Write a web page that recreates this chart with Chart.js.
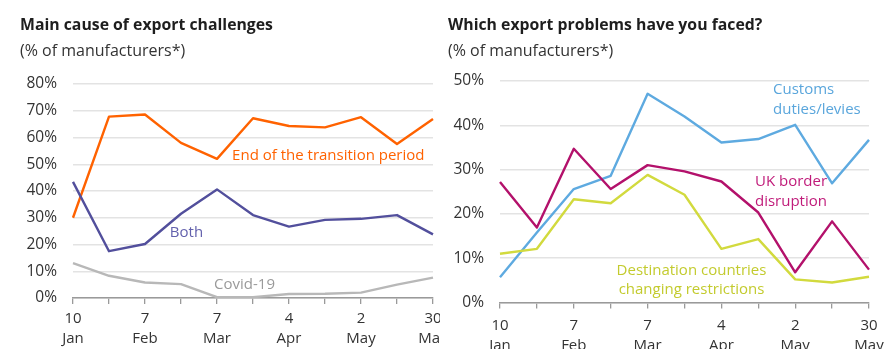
<!DOCTYPE html>
<html><head><meta charset="utf-8">
<script src="https://cdn.jsdelivr.net/npm/chart.js@4/dist/chart.umd.min.js"></script>
<style>
html,body{margin:0;padding:0;background:#fff;width:886px;height:349px;overflow:hidden;font-family:"Open Sans",sans-serif;}
.box{position:absolute;top:0;height:349px;overflow:hidden;}
.t{position:absolute;font-weight:700;font-size:15.8px;line-height:21px;color:#1e1e1e;white-space:nowrap;}
.s{position:absolute;font-size:16px;line-height:22px;color:#333;white-space:nowrap;}
canvas{position:absolute;left:0;top:0;}
</style></head><body>
<div class="box" style="left:0;width:440px;"><canvas id="c1"></canvas></div>
<div class="box" style="left:440px;width:446px;"><canvas id="c2"></canvas></div>
<div class="t" style="left:20px;top:13.5px;">Main cause of export challenges</div>
<div class="s" style="left:20px;top:38.5px;">(% of manufacturers*)</div>
<div class="t" style="left:448px;top:13.5px;">Which export problems have you faced?</div>
<div class="s" style="left:448px;top:38.5px;">(% of manufacturers*)</div>
<script>
const categories = ["10 Jan","24 Jan","7 Feb","21 Feb","7 Mar","21 Mar","4 Apr","18 Apr","2 May","16 May","30 May"];
const tickLabels = [["10","Jan"],"",["7","Feb"],"",["7","Mar"],"",["4","Apr"],"",["2","May"],"",["30","May"]];

// Left chart: main cause of export challenges (%)
const endOfTransition = [30, 67.8, 68.6, 58.0, 52.0, 67.2, 64.3, 63.8, 67.6, 57.6, 66.9];
const both = [43.4, 17.5, 20.2, 31.5, 40.6, 31.0, 26.7, 29.2, 29.6, 31.0, 23.8];
const covid19 = [13.0, 8.3, 5.8, 5.2, 0.3, 0.3, 1.5, 1.6, 2.0, 5.0, 7.6];
const leftTicks = [0,10,20,30,40,50,60,70,80];

// Right chart: export problems faced (%)
const customsDuties = [5.7, 15.8, 25.6, 28.6, 47.1, 42.0, 36.1, 36.9, 40.1, 26.9, 36.7];
const ukBorder = [27.2, 16.9, 34.7, 25.6, 31.0, 29.6, 27.3, 20.3, 6.8, 18.3, 7.4];
const destinationRestrictions = [11.0, 12.1, 23.3, 22.4, 28.8, 24.3, 12.1, 14.3, 5.2, 4.5, 5.8];
const rightTicks = [0,10,20,30,40,50];

const FONT = "'Open Sans', sans-serif";

const textPlugin = {
  id: 'lineLabels',
  afterDatasetsDraw(chart, args, opts) {
    const ctx = chart.ctx, xs = chart.scales.x, ys = chart.scales.y;
    ctx.save();
    ctx.font = "15px " + FONT;
    ctx.textBaseline = 'middle';
    (opts.items || []).forEach(it => {
      ctx.fillStyle = it.color;
      ctx.textAlign = it.align || 'left';
      ctx.fillText(it.text, xs.getPixelForValue(it.x), ys.getPixelForValue(it.y));
    });
    ctx.restore();
  }
};

function makeChart(id, w, opts) {
  const cv = document.getElementById(id);
  cv.width = w; cv.height = 349;
  cv.style.width = w + 'px'; cv.style.height = '349px';
  return new Chart(cv, {
    type: 'line',
    data: { labels: categories, datasets: opts.datasets.map(d => ({
      data: d.data, borderColor: d.color, borderWidth: 2.4, pointRadius: 0,
      tension: 0, fill: false, borderJoinStyle: 'round' })) },
    options: {
      responsive: false, animation: false, maintainAspectRatio: false,
      layout: { padding: { left: 0, right: opts.padRight, top: opts.top, bottom: 0 } },
      plugins: { legend: { display: false }, tooltip: { enabled: false },
        lineLabels: { items: opts.labels } },
      scales: {
        x: {
          type: 'category',
          offset: false,
          grid: { drawOnChartArea: false, drawTicks: true, tickLength: 6, color: '#9a9a9a', lineWidth: 1.3 },
          border: { display: true, color: '#9a9a9a', width: 1.5 },
          ticks: { autoSkip: false, maxRotation: 0, minRotation: 0, padding: opts.xPad,
            color: '#333', font: { family: FONT, size: 15, lineHeight: 1.3 },
            callback: (v, i) => tickLabels[i] },
          afterFit: s => { s.paddingLeft = 0; s.paddingRight = 0; s.height = opts.xH; }
        },
        y: {
          min: 0, max: opts.max,
          afterBuildTicks: s => { s.ticks = opts.ticks.map(v => ({ value: v })); },
          grid: { drawTicks: false, color: '#e3e3e3', lineWidth: 1.5 },
          border: { display: false },
          ticks: { padding: 16, color: '#333', font: { family: FONT, size: 15.5 },
            callback: v => v + '%' },
          afterFit: s => { s.width = opts.yW; s.paddingTop = 0; s.paddingBottom = 0; }
        }
      }
    },
    plugins: [textPlugin]
  });
}

makeChart('c1', 440, {
  max: 80, ticks: leftTicks, top: 84, padRight: 7, yW: 73, xH: 51, xPad: 5,
  datasets: [
    { data: covid19, color: '#b8b8b8' },
    { data: both, color: '#524f9c' },
    { data: endOfTransition, color: '#ff6200' }
  ],
  labels: [
    { text: 'End of the transition period', x: 4.42, y: 53.2, color: '#ff6200' },
    { text: 'Both', x: 2.69, y: 24.4, color: '#6361ad' },
    { text: 'Covid-19', x: 3.92, y: 5.0, color: '#9a9a9a' }
  ]
});

makeChart('c2', 446, {
  max: 50, ticks: rightTicks, top: 81, padRight: 17, yW: 60, xH: 46.6, xPad: 8,
  datasets: [
    { data: destinationRestrictions, color: '#d2da3e' },
    { data: ukBorder, color: '#b3116b' },
    { data: customsDuties, color: '#5eaae0' }
  ],
  labels: [
    { text: 'Customs', x: 7.40, y: 48.05, color: '#5aa6dc' },
    { text: 'duties/levies', x: 7.40, y: 43.5, color: '#5aa6dc' },
    { text: 'UK border', x: 6.91, y: 27.3, color: '#c01b7a' },
    { text: 'disruption', x: 6.91, y: 22.8, color: '#c01b7a' },
    { text: 'Destination countries', x: 5.19, y: 7.1, color: '#c3cb2e', align: 'center' },
    { text: 'changing restrictions', x: 5.19, y: 2.8, color: '#c3cb2e', align: 'center' }
  ]
});
</script>
</body></html>
